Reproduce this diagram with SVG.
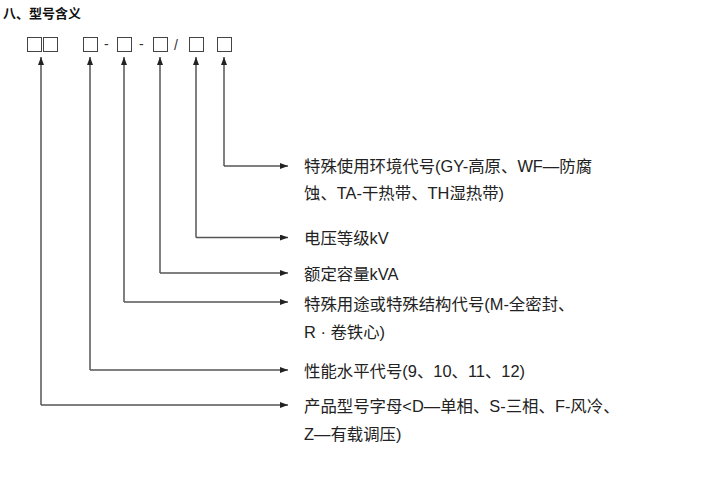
<svg xmlns="http://www.w3.org/2000/svg" width="727" height="479" viewBox="0 0 727 479">
<defs>
<style>
.t{font-family:"Liberation Sans","Noto Sans CJK SC",sans-serif;font-size:16.4px;fill:#222}
.h{font-family:"Noto Sans CJK SC",sans-serif;font-size:13px;font-weight:bold;fill:#111}
.box{fill:none;stroke:#444;stroke-width:1}
.sym{font-family:"Liberation Sans",sans-serif;font-size:14px;fill:#333}
.c{fill:none;stroke:#555;stroke-width:1.5}
</style>
<marker id="ah" viewBox="0 0 8 6" refX="8" refY="3" markerWidth="8" markerHeight="6" markerUnits="userSpaceOnUse" orient="auto">
<path d="M0,0 L8,3 L0,6 Z" fill="#222"/>
</marker>
</defs>
<rect width="727" height="479" fill="#fff"/>
<text class="h" x="3" y="18">八、型号含义</text>
<g id="code">
<rect class="box" x="27.5" y="37.5" width="14" height="14"/>
<rect class="box" x="43.5" y="37.5" width="14" height="14"/>
<rect class="box" x="83.5" y="37.5" width="14" height="14"/>
<text class="sym" x="104" y="49">-</text>
<rect class="box" x="117.5" y="37.5" width="14" height="14"/>
<text class="sym" x="139" y="49">-</text>
<rect class="box" x="153.5" y="37.5" width="14" height="14"/>
<text class="sym" x="174" y="50">/</text>
<rect class="box" x="189.5" y="37.5" width="14" height="14"/>
<rect class="box" x="217.5" y="37.5" width="14" height="14"/>
</g>
<g id="connectors">
<path class="c" d="M224,166 V57" marker-end="url(#ah)"/>
<path class="c" d="M224,166 H288" marker-end="url(#ah)"/>
<path class="c" d="M196,237.5 V57" marker-end="url(#ah)"/>
<path class="c" d="M196,237.5 H288" marker-end="url(#ah)"/>
<path class="c" d="M160,273 V57" marker-end="url(#ah)"/>
<path class="c" d="M160,273 H288" marker-end="url(#ah)"/>
<path class="c" d="M124,302 V57" marker-end="url(#ah)"/>
<path class="c" d="M124,302 H288" marker-end="url(#ah)"/>
<path class="c" d="M90,370 V57" marker-end="url(#ah)"/>
<path class="c" d="M90,370 H288" marker-end="url(#ah)"/>
<path class="c" d="M41,405 V57" marker-end="url(#ah)"/>
<path class="c" d="M41,405 H288" marker-end="url(#ah)"/>
</g>
<g id="n-env"><text class="t" x="304" y="172">特殊使用环境代号(GY-高原、WF—防腐</text><text class="t" x="304" y="199">蚀、TA-干热带、TH湿热带)</text></g>
<g id="n-volt"><text class="t" x="304" y="244">电压等级kV</text></g>
<g id="n-cap"><text class="t" x="304" y="280">额定容量kVA</text></g>
<g id="n-use"><text class="t" x="304" y="310">特殊用途或特殊结构代号(M-全密封、</text><text class="t" x="304" y="338">R · 卷铁心)</text></g>
<g id="n-perf"><text class="t" x="304" y="377">性能水平代号(9、10、11、12)</text></g>
<g id="n-prod"><text class="t" x="304" y="412">产品型号字母&lt;D—单相、S-三相、F-风冷、</text><text class="t" x="304" y="440">Z—有载调压)</text></g>
</svg>
